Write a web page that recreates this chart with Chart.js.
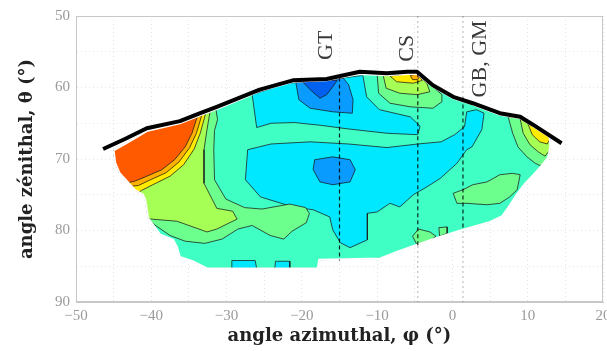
<!DOCTYPE html>
<html>
<head>
<meta charset="utf-8">
<script src="https://cdn.jsdelivr.net/npm/chart.js@4.4.1/dist/chart.umd.min.js"></script>
<style>
  html, body { margin: 0; padding: 0; background: #fff; }
  #wrap { width: 607px; height: 351px; }
</style>
</head>
<body>
<div id="wrap"><canvas id="mainChart"></canvas></div>
<script>
// axes
const xTicks = [-50, -40, -30, -20, -10, 0, 10, 20];
const xTickLabels = ['\u221250', '\u221240', '\u221230', '\u221220', '\u221210', '0', '10', '20'];
const yTicks = [50, 60, 70, 80, 90];
const yTickLabels = ['50', '60', '70', '80', '90'];

// measured zone (phi, theta)
const domain = [
  [-45.0, 68.8], [-43.0, 67.6], [-40.6, 66.1], [-36.2, 65.0], [-33.5, 63.9], [-31.3, 63.0],
  [-28.0, 61.6], [-25.6, 60.5], [-21.2, 59.2], [-16.7, 59.0], [-14.9, 58.6], [-12.3, 58.1],
  [-8.7, 58.3], [-6.0, 58.1], [-4.7, 58.1], [-2.6, 59.9], [0.1, 61.5], [2.7, 62.4], [6.3, 63.8],
  [9.0, 64.3], [10.7, 65.4], [12.9, 66.9], [13.0, 68.2], [12.7, 69.8], [11.8, 71.0], [10.7, 72.3],
  [9.6, 73.5], [8.6, 74.9], [7.6, 76.5], [6.6, 78.0], [5.0, 78.8], [1.4, 79.9], [-1.7, 80.9],
  [-4.7, 82.0], [-7.4, 83.0], [-9.6, 83.9], [-17.7, 84.1], [-17.9, 85.3], [-32.6, 85.3],
  [-34.5, 84.3], [-36.2, 83.7], [-36.6, 82.3], [-37.1, 81.3], [-38.8, 80.6], [-40.4, 78.3],
  [-40.8, 75.7], [-41.1, 75.0], [-42.2, 74.3], [-44.2, 72.0], [-44.8, 70.5]
];

// upper limit (thick black line)
const topLimit = [
  [-46.4, 68.6], [-43.5, 67.2], [-40.6, 65.7], [-36.2, 64.7], [-33.5, 63.6], [-31.3, 62.7],
  [-28.0, 61.3], [-25.6, 60.3], [-21.2, 59.0], [-16.7, 58.8], [-14.9, 58.4], [-12.3, 57.8],
  [-8.7, 58.0], [-6.0, 57.8], [-4.7, 57.8], [-2.6, 59.7], [0.1, 61.3], [2.7, 62.2], [6.3, 63.6],
  [9.0, 64.1], [10.7, 65.2], [14.5, 67.8]
];

// iso-level zones, low values
const cyanTop = [
  [-26.6, 61.0], [-22.0, 59.4], [-16.9, 59.0], [-11.9, 58.3], [-11.4, 61.3], [-9.7, 63.1],
  [-5.6, 64.1], [-4.3, 65.4], [-4.6, 66.6], [-8.7, 66.4], [-13.8, 65.8], [-17.4, 65.3],
  [-21.0, 64.9], [-24.1, 65.0], [-26.0, 65.6]
];
const cyanMid = [
  [-27.2, 68.7], [-24.1, 67.9], [-18.9, 67.6], [-13.8, 67.9], [-8.7, 68.4], [-4.6, 67.9],
  [-1.5, 67.6], [0.3, 66.6], [1.6, 65.5], [1.9, 63.4], [3.2, 63.1], [4.2, 63.6], [3.9, 65.9],
  [2.6, 68.3], [1.9, 68.7], [0.6, 70.6], [-1.6, 72.7], [-3.4, 73.9], [-5.2, 75.0], [-7.0, 76.7],
  [-8.3, 76.2], [-10.0, 77.4], [-11.3, 77.6], [-11.3, 81.3], [-13.6, 82.4], [-14.9, 81.7],
  [-15.9, 79.9], [-16.3, 78.1], [-18.5, 77.1], [-21.2, 76.7], [-25.5, 75.3], [-27.5, 72.9],
  [-27.3, 70.1]
];
const cyanBitA = [[-29.3, 85.3], [-29.3, 84.2], [-26.2, 84.2], [-26.0, 85.3]];
const cyanBitB = [[-23.6, 85.3], [-23.5, 84.3], [-21.6, 84.3], [-21.6, 85.3]];
const blueGT = [
  [-20.8, 59.3], [-20.4, 61.7], [-18.9, 62.9], [-15.9, 63.4], [-13.3, 63.6], [-13.2, 61.7],
  [-13.8, 59.6], [-14.5, 58.7], [-16.7, 59.0]
];
const blueMid = [
  [-18.3, 70.1], [-18.5, 71.5], [-17.6, 73.2], [-15.9, 73.6], [-13.6, 73.2], [-12.9, 71.5],
  [-13.6, 70.1], [-15.9, 69.7]
];
const darkBlueGT = [
  [-19.9, 59.2], [-18.9, 60.3], [-17.6, 61.5], [-16.7, 61.0], [-15.9, 59.9], [-15.3, 59.0],
  [-16.7, 59.0]
];

// iso-level zones, high values
const greenLeft = [
  [-31.4, 63.1], [-31.2, 64.5], [-31.6, 66.0], [-31.7, 68.7], [-31.6, 72.9], [-30.1, 75.6],
  [-27.6, 76.8], [-25.3, 77.0], [-21.6, 76.3], [-19.5, 76.8], [-19.0, 77.6], [-19.4, 78.9],
  [-21.3, 80.1], [-22.4, 81.2], [-24.2, 80.7], [-26.6, 79.3], [-28.5, 79.8], [-30.6, 81.2],
  [-32.9, 81.8], [-35.5, 81.5], [-37.5, 80.7], [-39.7, 79.1], [-40.4, 78.3], [-40.8, 75.7],
  [-41.1, 75.0], [-42.2, 74.3], [-44.2, 72.0], [-44.8, 70.5], [-45.0, 68.8], [-43.0, 67.6],
  [-40.6, 66.1], [-36.2, 65.0], [-33.5, 63.9]
];
const greenCS = [
  [-10.0, 58.2], [-9.8, 60.8], [-8.3, 62.2], [-5.6, 62.7], [-2.6, 62.9], [-1.4, 62.0],
  [-1.4, 61.0], [-2.6, 59.9], [-4.7, 58.1], [-6.0, 58.1], [-8.7, 58.3]
];
const greenRight = [
  [7.4, 64.1], [8.0, 66.4], [8.7, 68.3], [9.9, 69.7], [11.0, 70.6], [11.8, 71.0], [12.7, 69.8],
  [13.0, 68.2], [12.9, 66.9], [10.7, 65.4], [9.0, 64.3]
];
const greenLow = [
  [0.1, 74.8], [0.6, 76.2], [1.9, 76.2], [4.6, 76.4], [6.3, 76.2], [7.6, 75.3], [8.6, 74.3],
  [9.0, 72.2], [8.0, 72.0], [6.3, 72.2], [4.6, 73.2], [2.7, 73.6], [1.4, 74.3]
];
const greenBitA = [[-5.3, 80.8], [-4.5, 79.8], [-3.0, 80.2], [-2.2, 80.8], [-2.8, 81.3], [-4.7, 82.0]];
const greenBitB = [[-1.8, 79.6], [-0.7, 79.5], [-0.7, 80.4], [-1.7, 80.8]];

const lightLeft = [
  [-32.2, 63.4], [-32.6, 65.9], [-33.0, 68.7], [-33.0, 73.4], [-31.3, 76.9], [-29.2, 77.3],
  [-28.6, 78.4], [-31.3, 79.8], [-32.6, 80.2], [-36.6, 78.7], [-40.1, 78.4], [-40.4, 78.3],
  [-40.8, 75.7], [-41.1, 75.0], [-42.2, 74.3], [-44.2, 72.0], [-44.8, 70.5], [-45.0, 68.8],
  [-43.0, 67.6], [-40.6, 66.1], [-36.2, 65.0], [-33.5, 63.9]
];
const lightCS = [
  [-9.2, 58.3], [-8.8, 60.1], [-7.0, 60.8], [-4.7, 61.0], [-3.0, 60.6], [-3.4, 59.4],
  [-4.7, 58.1], [-6.0, 58.1], [-8.7, 58.3]
];
const lightRight = [
  [9.0, 64.4], [9.4, 66.4], [10.3, 68.0], [11.4, 69.0], [12.3, 69.6], [12.9, 68.8], [13.0, 68.2],
  [12.9, 66.9], [10.7, 65.4]
];

const yellowLeft = [
  [-32.8, 63.7], [-33.5, 66.4], [-34.3, 68.6], [-35.7, 70.8], [-37.5, 72.4], [-39.8, 73.6],
  [-41.3, 74.4], [-41.7, 74.7], [-42.2, 74.3], [-44.2, 72.0], [-44.8, 70.5], [-45.0, 68.8],
  [-43.0, 67.6], [-40.6, 66.1], [-36.2, 65.0], [-33.5, 63.9]
];
const yellowCS = [[-8.3, 58.4], [-7.4, 59.2], [-5.2, 59.4], [-4.0, 59.0], [-4.6, 58.2], [-6.0, 58.1]];
const yellowRight = [
  [10.0, 65.0], [10.6, 66.6], [11.6, 67.6], [12.6, 67.9], [12.9, 67.3], [12.9, 66.9], [11.5, 65.9],
  [10.7, 65.4]
];

const orangeLeft = [
  [-33.3, 63.9], [-34.0, 66.4], [-34.9, 68.4], [-36.3, 70.4], [-38.0, 71.9], [-40.3, 73.0],
  [-41.7, 73.7], [-42.6, 73.8], [-44.2, 72.0], [-44.8, 70.5], [-45.0, 68.8], [-43.0, 67.6],
  [-40.6, 66.1], [-36.2, 65.0], [-34.0, 64.1]
];
const orangeCS = [[-5.6, 58.3], [-5.3, 58.9], [-4.6, 58.9], [-4.4, 58.5], [-4.7, 58.1]];

const redLeft = [
  [-33.9, 64.1], [-34.6, 66.4], [-35.5, 68.3], [-36.9, 70.1], [-38.6, 71.5], [-40.8, 72.5],
  [-42.2, 73.1], [-43.0, 73.3], [-44.2, 72.0], [-44.8, 70.5], [-45.0, 68.8], [-43.0, 67.6],
  [-40.6, 66.1], [-36.2, 65.0]
];

// reference planes
const refNames = ['GT', 'CS', 'GB, GM'];
const refX = [-15, -4.6, 1.4];
const refTop = [58.6, 58.0, 61.4];
const refBottom = [84.2, 82.2, 79.9];
const refFullHeight = [false, true, true];

const colors = {
  aqua: '#40ffc4',
  cyan: '#00e8ff',
  blue: '#0a9bff',
  darkBlue: '#0060f0',
  green: '#6cff8e',
  light: '#a6ff55',
  yellow: '#ffeb00',
  orange: '#ffb000',
  red: '#ff5a00'
};

const serif = "'Liberation Serif', 'Times New Roman', serif";
const titleSerif = "'DejaVu Serif', serif";
const toXY = pts => pts.map(([x, y]) => ({x, y}));
const closeRing = pts => pts.concat([pts[0]]);

function zone(pts, color) {
  return {
    data: toXY(closeRing(pts)),
    showLine: true,
    fill: 'shape',
    backgroundColor: color,
    borderColor: 'rgba(25,25,25,0.75)',
    borderWidth: 1,
    pointRadius: 0
  };
}

function vline(x, y0, y1, color, dash, width) {
  return {
    data: [{x, y: y0}, {x, y: y1}],
    showLine: true,
    fill: false,
    borderColor: color,
    borderDash: dash,
    borderWidth: width,
    pointRadius: 0
  };
}

// bottom -> top
const layers = [];
refX.forEach((x, i) => {
  if (refFullHeight[i]) layers.push(vline(x, 50, 90, 'rgba(0,0,0,0.3)', [2, 3], 1));
});
layers.push(zone(domain, colors.aqua));
[cyanTop, cyanMid, cyanBitA, cyanBitB].forEach(p => layers.push(zone(p, colors.cyan)));
[blueGT, blueMid].forEach(p => layers.push(zone(p, colors.blue)));
layers.push(zone(darkBlueGT, colors.darkBlue));
[greenLeft, greenCS, greenRight, greenLow, greenBitA, greenBitB].forEach(p => layers.push(zone(p, colors.green)));
[lightLeft, lightCS, lightRight].forEach(p => layers.push(zone(p, colors.light)));
[yellowLeft, yellowCS, yellowRight].forEach(p => layers.push(zone(p, colors.yellow)));
[orangeLeft, orangeCS].forEach(p => layers.push(zone(p, colors.orange)));
layers.push(zone(redLeft, colors.red));
// white rim hides contour strokes along the edge of the measured zone
layers.push({
  data: toXY(closeRing(domain)), showLine: true, fill: false,
  borderColor: '#ffffff', borderWidth: 2, pointRadius: 0
});
refX.forEach((x, i) => layers.push(vline(x, refTop[i], refBottom[i], 'rgba(0,0,0,0.85)', [4, 3], 1.2)));
layers.push({
  data: toXY(topLimit), showLine: true, fill: false,
  borderColor: '#000000', borderWidth: 4, borderJoinStyle: 'round', pointRadius: 0
});
layers.forEach((ds, i) => { ds.order = layers.length - i; });

const frame = {
  id: 'frame',
  beforeDatasetsDraw(chart) {
    const {ctx, chartArea: a} = chart;
    ctx.save();
    ctx.strokeStyle = '#c8c8c8';
    ctx.lineWidth = 1;
    ctx.strokeRect(a.left + 0.5, a.top + 0.5, a.right - a.left - 1, a.bottom - a.top - 1);
    ctx.restore();
  }
};

const refLabels = {
  id: 'refLabels',
  afterDatasetsDraw(chart) {
    const {ctx, scales: {x, y}} = chart;
    const shift = [-13, -11, 17];
    const mid = [54.1, 54.5, 56.0];
    ctx.save();
    ctx.font = '22px ' + serif;
    ctx.fillStyle = '#3a3a3a';
    ctx.textAlign = 'center';
    ctx.textBaseline = 'middle';
    refNames.forEach((name, i) => {
      ctx.save();
      ctx.translate(x.getPixelForValue(refX[i]) + shift[i], y.getPixelForValue(mid[i]));
      ctx.rotate(-Math.PI / 2);
      ctx.fillText(name, 0, 0);
      ctx.restore();
    });
    ctx.restore();
  }
};

function buildChart(ctx) {
  return new Chart(ctx, {
    type: 'scatter',
    data: { datasets: layers },
    plugins: [frame, refLabels],
    options: {
      responsive: true,
      maintainAspectRatio: false,
      animation: false,
      events: [],
      layout: { padding: { left: 0, right: 4, top: 16, bottom: 0 } },
      scales: {
        x: {
          type: 'linear',
          min: -50,
          max: 20,
          afterFit(s) { s.height = 49; s.paddingLeft = 0; s.paddingRight = 0; },
          grid: { color: 'rgba(0,0,0,0.1)', drawTicks: false },
          border: { display: true, color: '#c8c8c8', dash: [1, 3] },
          ticks: {
            stepSize: 5,
            autoSkip: false,
            maxRotation: 0,
            padding: 5,
            color: '#9a9a9a',
            font: { family: serif, size: 15 },
            callback: v => {
              const i = xTicks.indexOf(v);
              return i >= 0 ? xTickLabels[i] : '';
            }
          },
          title: {
            display: true,
            text: 'angle azimuthal, \u03c6 (\u00b0)',
            color: '#222',
            font: { family: titleSerif, size: 18, weight: 'bold' },
            padding: { top: 0, bottom: 4 }
          }
        },
        y: {
          type: 'linear',
          min: 50,
          max: 90,
          reverse: true,
          afterFit(s) { s.width = 76; },
          grid: { color: 'rgba(0,0,0,0.1)', drawTicks: false },
          border: { display: true, color: '#c8c8c8', dash: [1, 3] },
          ticks: {
            stepSize: 5,
            autoSkip: false,
            padding: 6,
            color: '#9a9a9a',
            font: { family: serif, size: 15 },
            callback: v => {
              const i = yTicks.indexOf(v);
              return i >= 0 ? yTickLabels[i] : '';
            }
          },
          title: {
            display: true,
            text: 'angle z\u00e9nithal, \u03b8 (\u00b0)',
            color: '#222',
            font: { family: titleSerif, size: 18, weight: 'bold' },
            padding: { top: 17, bottom: 0 }
          }
        }
      },
      plugins: {
        legend: { display: false },
        tooltip: { enabled: false }
      }
    }
  });
}

document.addEventListener('DOMContentLoaded', () => {
  const canvas = document.getElementById('mainChart');
  buildChart(canvas.getContext('2d'));
});
</script>
</body>
</html>
